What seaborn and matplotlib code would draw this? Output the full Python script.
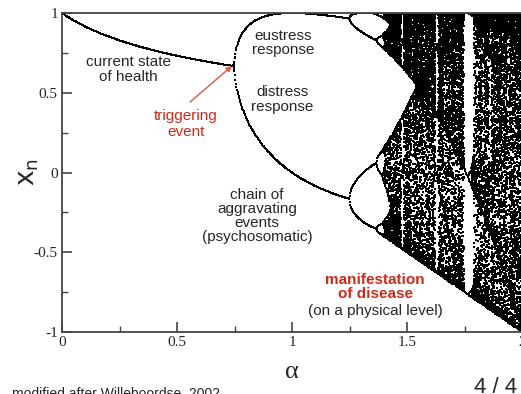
import numpy as np
import pandas as pd
import matplotlib
matplotlib.use("Agg")
import matplotlib.pyplot as plt
import seaborn as sns

# Quadratic map x_{n+1} = 1 - alpha * x_n^2, parameters
ALPHA_RANGE = [0.0, 2.0]
N_ALPHA = 850
N_TRANSIENT = 600
N_KEEP = 85
X_START = [0.1]

X_TICKS = [0, 0.5, 1, 1.5, 2]
X_TICK_LABELS = ["0", "0.5", "1", "1.5", "2"]
Y_TICKS = [-1, -0.5, 0, 0.5, 1]
Y_TICK_LABELS = ["-1", "-0.5", "0", "0.5", "1"]

alphas = np.linspace(ALPHA_RANGE[0], ALPHA_RANGE[1], N_ALPHA)
x = np.full_like(alphas, X_START[0])
for _ in range(N_TRANSIENT):
    x = 1 - alphas * x ** 2
xs, als = [], []
for _ in range(N_KEEP):
    x = 1 - alphas * x ** 2
    xs.append(x.copy())
    als.append(alphas)
df = pd.DataFrame({"alpha": np.concatenate(als), "x": np.concatenate(xs)})

sns.set_style("ticks")
plt.rcParams["font.family"] = ["Liberation Sans", "DejaVu Sans"]

fig = plt.figure(figsize=(5.21, 3.94), dpi=100)
ax = fig.add_axes([62 / 521, 1 - 332 / 394, 460 / 521, 319 / 394])

sns.scatterplot(data=df, x="alpha", y="x", s=0.55, marker="s", linewidth=0,
                color="black", ax=ax, legend=False, antialiased=False)

ax.set_xlim(0, 2)
ax.set_ylim(-1, 1)
ax.set_xticks(X_TICKS)
ax.set_xticklabels(X_TICK_LABELS, family="Liberation Serif", fontsize=11)
ax.set_yticks(Y_TICKS)
ax.set_yticklabels(Y_TICK_LABELS, family="Liberation Serif", fontsize=11)
ax.set_xticks([0.25, 0.75, 1.25, 1.75], minor=True)
ax.set_yticks([-0.75, -0.25, 0.25, 0.75], minor=True)
ax.tick_params(which="major", direction="in", length=7, width=1.2, color="#444", pad=3)
ax.tick_params(which="minor", direction="in", length=4, width=1.0, color="#444")
ax.tick_params(axis="x", which="both", top=False)
for s in ["left", "bottom", "top"]:
    ax.spines[s].set_linewidth(1.3)
    ax.spines[s].set_color("#444")
ax.spines["right"].set_visible(False)

ax.set_xlabel("α", family="Liberation Serif", fontsize=19)
ax.xaxis.set_label_coords(0.5, -0.09)
ax.set_ylabel("$\\mathrm{x_n}$", fontsize=19)
ax.yaxis.set_label_coords(-0.045, 0.5)

red = "#cc2a1a"
fs = 11
ax.text(0.287, 0.643, "current state\nof health", ha="center", va="center",
        fontsize=fs, linespacing=1.1)
ax.text(0.539, 0.304, "triggering\nevent", ha="center", va="center",
        fontsize=fs, color=red, linespacing=1.1)
ax.annotate("", xy=(0.739, 0.668), xytext=(0.557, 0.442),
            arrowprops=dict(arrowstyle="-|>", color="#e05a40", lw=1.0,
                            mutation_scale=8, shrinkA=0, shrinkB=0))
ax.text(0.961, 0.812, "eustress\nresponse", ha="center", va="center",
        fontsize=fs, linespacing=1.05)
ax.text(0.957, 0.455, "distress\nresponse", ha="center", va="center",
        fontsize=fs, linespacing=1.1)
ax.text(0.848, -0.273, "chain of\naggravating\nevents\n(psychosomatic)", ha="center",
        va="center", fontsize=fs, linespacing=1.0)
ax.text(1.361, -0.715, "manifestation\nof disease", ha="center", va="center",
        fontsize=fs, color=red, fontweight="bold", linespacing=1.0)
ax.text(1.361, -0.868, "(on a physical level)", ha="center", va="center", fontsize=fs)

fig.text(12 / 521, 1 - 387 / 394, "modified after Willeboordse, 2002", ha="left",
         va="top", fontsize=10)
fig.text(474 / 521, 1 - 377 / 394, "4 / 4", ha="left", va="top", fontsize=16)

fig.savefig("out.png", dpi=100)
